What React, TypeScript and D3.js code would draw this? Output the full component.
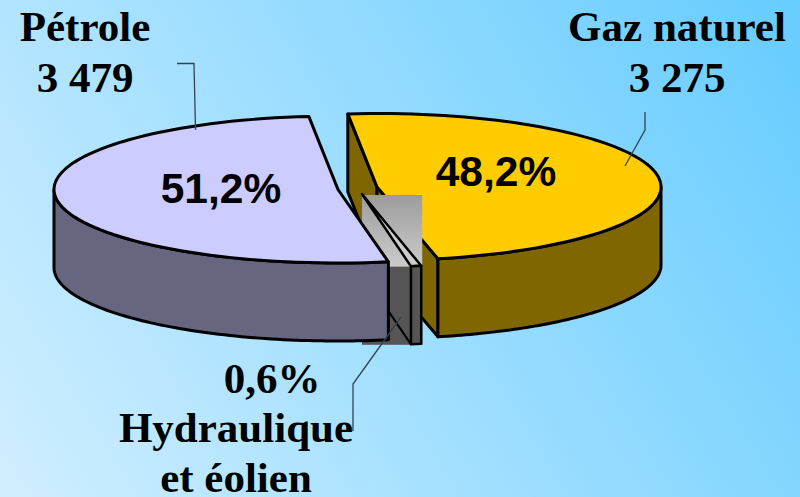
import React from "react";
import * as d3 from "d3";

const sources = ["Gaz naturel", "Hydraulique et éolien", "Pétrole"];
const values = [3275, 41, 3479];
const topColors = ["#ffcc00", "none", "#ccccff"];
const wallColors = ["#806600", "none", "#666680"];
const percentLabels = ["48,2%", "0,6%", "51,2%"];

const W = 800, H = 497;
const RX = 284, RX_HYDRO = 276, RY = 73.5, DEPTH = 78;
const START = (-5.9 * Math.PI) / 180;
const centers: [number, number][] = [[377, 187], [362, 194], [338, 189.5]];

const pie = d3.pie<number>().sort(null).startAngle(START).endAngle(START + 2 * Math.PI);
const arcs = pie(values);

const pt = (c: [number, number], a: number, dy = 0, rx = RX): [number, number] => [
  c[0] + rx * Math.sin(a),
  c[1] - RY * Math.cos(a) + dy,
];
const rim = (c: [number, number], a0: number, a1: number, dy = 0) =>
  d3.range(0, 81).map((i) => pt(c, a0 + ((a1 - a0) * i) / 80, dy));
const line = d3.line();
const poly = (p: [number, number][]) => line(p) + "Z";

// front wall of a slice: the part of its rim facing the viewer
const wall = (c: [number, number], a0: number, a1: number) => {
  const top = rim(c, a0, a1);
  const bottom = rim(c, a1, a0, DEPTH);
  return poly([...top, ...bottom]);
};

const OUT = { stroke: "#000", strokeWidth: 3, strokeLinejoin: "round" as const };

export default function App() {
  const [gaz, hyd, pet] = arcs;
  const cG = centers[0], cH = centers[1], cP = centers[2];
  const gStart = pt(cG, gaz.startAngle), gEnd = pt(cG, gaz.endAngle);
  const hA = pt(cH, hyd.startAngle, 0, RX_HYDRO), hB = pt(cH, hyd.endAngle, 0, RX_HYDRO);
  const boxX = cH[0], boxW = hA[0] + 1 - cH[0], boxY = cH[1] + 1, boxH = hA[1] - boxY + 1;
  return (
    <svg width={W} height={H} style={{ position: "absolute", left: 0, top: 0, display: "block" }}>
      <defs>
        <linearGradient id="bg" gradientUnits="userSpaceOnUse" x1={0} y1={H} x2={W} y2={0}>
          <stop offset="0" stopColor="#d0eeff" />
          <stop offset="1" stopColor="#66ccff" />
        </linearGradient>
        <linearGradient id="gray" x1="0" y1="0" x2="0" y2="1">
          <stop offset="0" stopColor="#9c9c9c" />
          <stop offset="1" stopColor="#cccccc" />
        </linearGradient>
      </defs>
      <rect width={W} height={H} fill="url(#bg)" />

      {/* Gaz naturel */}
      <path d={poly([gStart, cG, [cG[0], cG[1] + DEPTH], [gStart[0], gStart[1] + DEPTH]])} fill={wallColors[0]} {...OUT} />
      <path d={poly([cG, gEnd, [gEnd[0], gEnd[1] + DEPTH], [cG[0], cG[1] + DEPTH]])} fill={wallColors[0]} {...OUT} />
      <path d={wall(cG, Math.PI / 2, gaz.endAngle)} fill={wallColors[0]} {...OUT} />
      <path d={poly([cG, ...rim(cG, gaz.startAngle, gaz.endAngle)])} fill={topColors[0]} {...OUT} />

      {/* Hydraulique et éolien */}
      <rect x={boxX} y={boxY} width={boxW} height={boxH} fill="url(#gray)" />
      <rect x={boxX} y={boxY + boxH} width={boxW} height={DEPTH} fill="#555555" />
      <path d={poly([cH, hA, hB])} fill="#cccccc" {...OUT} strokeWidth={2.5} />
      <path
        d={poly([hA, [hA[0], hA[1] + DEPTH], [hB[0], hB[1] + DEPTH], hB])}
        fill="#555555"
        {...OUT}
        strokeWidth={2.5}
      />
      <path d={line([[cH[0], cH[1] + DEPTH], [hB[0], hB[1] + DEPTH]])!} fill="none" {...OUT} strokeWidth={2} />

      {/* Pétrole */}
      <path d={wall(cP, pet.startAngle, (3 * Math.PI) / 2)} fill={wallColors[2]} {...OUT} />
      <path d={poly([cP, ...rim(cP, pet.startAngle, pet.endAngle)])} fill={topColors[2]} {...OUT} />

      {/* Leader lines */}
      <g fill="none" stroke="#33444f" strokeWidth={1.3}>
        <path d="M177,63.5H194L195.5,130" />
        <path d="M645,112V130L625,166" />
        <path d="M401,317L353,384V431" />
      </g>

      {/* Labels */}
      <g fontFamily="'Liberation Serif', serif" fontWeight={700} fontSize={43} fill="#000" textAnchor="middle">
        <text x={85} y={41}>{sources[2]}</text>
        <text x={85} y={92}>3 479</text>
        <text x={677} y={41}>{sources[0]}</text>
        <text x={677} y={92}>3 275</text>
        <text x={272} y={393}>{percentLabels[1]}</text>
        <text x={236} y={442}>Hydraulique</text>
        <text x={236} y={492}>et éolien</text>
      </g>
      <g fontFamily="'Liberation Sans', sans-serif" fontWeight={700} fontSize={42.5} fill="#000" textAnchor="middle">
        <text x={221} y={203}>{percentLabels[2]}</text>
        <text x={496} y={186}>{percentLabels[0]}</text>
      </g>
    </svg>
  );
}
